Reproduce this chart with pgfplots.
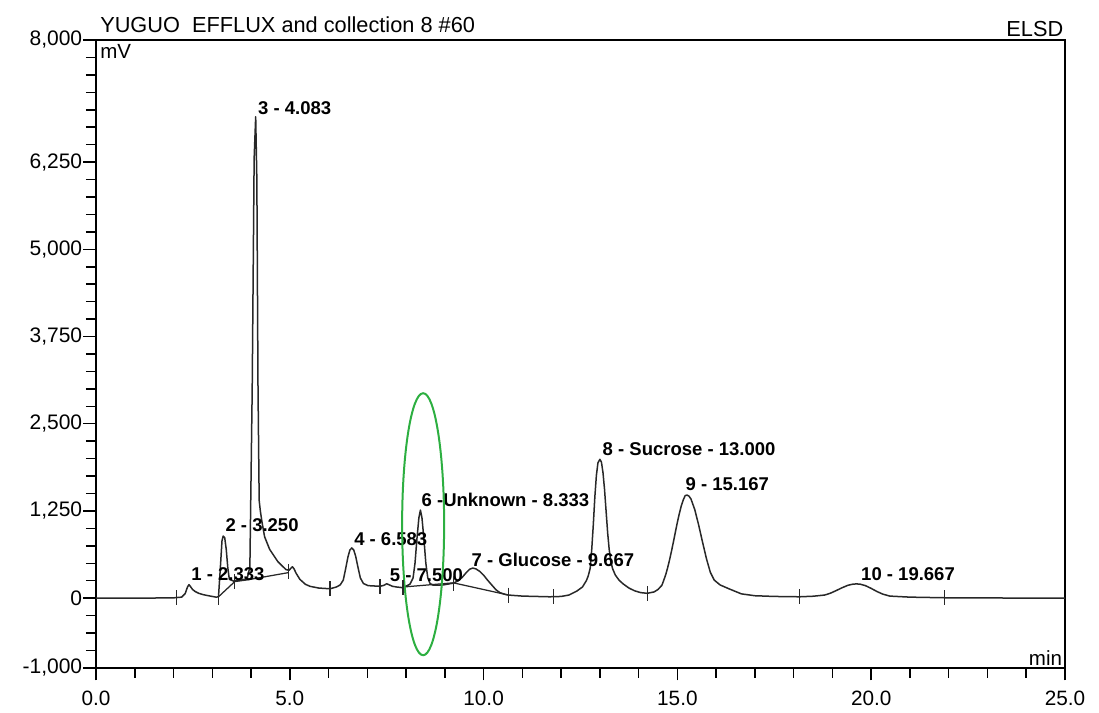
\documentclass[border=0pt]{standalone}
\usepackage{fontspec}
\setmainfont{Liberation Sans}
\usepackage{pgfplots}
\pgfplotsset{compat=1.18}
\definecolor{ell}{RGB}{45,175,65}
\definecolor{sig}{RGB}{40,40,40}
\begin{document}
\begin{tikzpicture}
\begin{axis}[
  scale only axis, width=387.6pt, height=251.2pt,
  xmin=0, xmax=25, ymin=-1000, ymax=8000,
  axis line style={line width=0.7pt},
  tick pos=left, tick align=outside,
  xtick={0,5,...,25}, minor xtick={0,1,...,25},
  ytick={-1000,0,1250,2500,3750,5000,6250,8000},
  minor ytick={-1000,-750,...,8000},
  major tick length=5pt, minor tick length=4pt,
  every tick/.style={line width=0.6pt, black},
  /pgf/number format/assume math mode=true,
  x tick label style={/pgf/number format/.cd, fixed, fixed zerofill, precision=1, /tikz/.cd, font=\fontsize{8.3}{9}\selectfont, yshift=-0.5pt},
  y tick label style={/pgf/number format/.cd, fixed, 1000 sep={,}, /tikz/.cd, font=\fontsize{8.4}{9}\selectfont, xshift=3pt},
  scaled ticks=false,
  clip=false,
]
% chromatogram signal
\addplot[sig, line width=0.6pt, line join=round] coordinates {
(0,0) (1.0,0) (2.0,5) (2.21,15) (2.30,65) (2.36,160) (2.40,194) (2.44,165) (2.49,125) (2.56,95) (2.65,70) (2.77,50) (2.95,30) (3.10,15)
(3.16,20) (3.21,450) (3.25,820) (3.28,890) (3.32,870) (3.36,700) (3.40,440) (3.44,270) (3.55,245) (3.75,260) (3.90,280)
(3.97,450) (4.03,3000) (4.08,6300) (4.12,6900) (4.15,6000) (4.18,3000) (4.21,1400) (4.24,1250) (4.28,1100) (4.35,880)
(4.48,700) (4.69,525) (4.90,410) (4.98,400) (5.03,430) (5.07,450) (5.11,420) (5.16,360) (5.26,270) (5.40,200) (5.52,170) (5.75,145) (6.04,135)
(6.20,160) (6.30,190) (6.38,260) (6.44,420) (6.50,590) (6.55,690) (6.60,720) (6.65,690) (6.70,600) (6.76,440) (6.82,290) (6.90,210) (7.02,180)
(7.33,170) (7.43,185) (7.50,207) (7.57,190) (7.65,170) (7.76,160) (7.92,150)
(8.10,200) (8.18,290) (8.23,500) (8.28,850) (8.33,1150) (8.37,1263) (8.41,1150) (8.46,850) (8.51,500) (8.56,290) (8.62,210) (8.70,186)
(8.96,190) (9.22,216) (9.35,250) (9.45,300) (9.55,365) (9.64,415) (9.72,432) (9.80,420) (9.90,385) (10.0,330) (10.1,260) (10.21,190)
(10.32,120) (10.42,80) (10.55,55) (10.64,45) (11.0,30) (11.71,20)
(12.0,25) (12.2,45) (12.40,100) (12.55,160) (12.65,250) (12.70,320) (12.75,430) (12.79,700) (12.83,1050) (12.87,1450) (12.91,1760)
(12.95,1940) (13.00,1990) (13.04,1950) (13.08,1800) (13.12,1560) (13.16,1250) (13.20,940) (13.24,700) (13.28,530) (13.33,420)
(13.40,330) (13.50,255) (13.60,205) (13.75,145) (13.90,105) (14.05,80) (14.22,70)
(14.40,90) (14.50,125) (14.60,185) (14.65,260) (14.70,340) (14.75,440) (14.80,555) (14.85,680) (14.90,815) (14.95,954) (15.00,1089)
(15.05,1213) (15.10,1322) (15.15,1407) (15.20,1470) (15.25,1478) (15.30,1462) (15.35,1422) (15.45,1266) (15.55,1045) (15.65,800)
(15.75,565) (15.85,370) (15.95,260) (16.10,190) (16.35,130) (16.65,62) (17.0,35) (17.5,25)
(18.15,20) (18.50,28) (18.80,45) (18.95,72) (19.10,110) (19.25,150) (19.40,185) (19.52,200) (19.62,205) (19.72,200) (19.85,180)
(20.0,140) (20.15,95) (20.30,58) (20.48,30) (21.0,15) (22.0,5) (25.0,0)
};
% integration baselines
\addplot[sig, line width=0.5pt] coordinates {(3.16,20) (3.58,238) (3.90,262) (4.96,366)};
\addplot[sig, line width=0.5pt] coordinates {(7.92,160) (9.22,220) (10.64,45)};
% peak delimiter ticks
\addplot[sig, only marks, mark=|, mark size=3pt, mark options={line width=0.5pt}] coordinates {
(2.07,5) (3.16,10) (3.58,238) (4.96,380) (6.04,135) (7.33,170) (7.92,155) (9.22,216) (10.64,45)
(11.8,20) (14.22,65) (18.15,20) (21.9,5)
};
% peak labels
\begin{scope}[every node/.style={anchor=west, inner sep=0pt, font=\fontsize{7.4}{8}\selectfont\bfseries}]
\node at (axis cs:2.45,340) {1 - 2.333};
\node at (axis cs:3.33,1040) {2 - 3.250};
\node at (axis cs:4.17,7020) {3 - 4.083};
\node at (axis cs:6.65,850) {4 - 6.583};
\node at (axis cs:7.57,336) {5 - 7.500};
\node at (axis cs:8.39,1408) {6 -Unknown - 8.333};
\node at (axis cs:9.68,547) {7 - Glucose - 9.667};
\node at (axis cs:13.06,2134) {8 - Sucrose - 13.000};
\node at (axis cs:15.20,1630) {9 - 15.167};
\node at (axis cs:19.73,345) {10 - 19.667};
\end{scope}
% highlight ellipse
\draw[ell, line width=0.8pt] (axis cs:8.44,1060) ellipse [x radius=8.4pt, y radius=52.4pt];
% header and unit texts
\node[anchor=base west, inner sep=0pt, font=\fontsize{8.7}{10}\selectfont] at ([xshift=1.5pt,yshift=3.0pt]rel axis cs:0,1) {YUGUO\ \ EFFLUX and collection 8 \#60};
\node[anchor=base east, inner sep=0pt, font=\fontsize{8.7}{10}\selectfont] at ([xshift=-0.5pt,yshift=1.5pt]rel axis cs:1,1) {ELSD};
\node[anchor=north west, inner sep=0pt, font=\fontsize{8.2}{9}\selectfont] at ([xshift=1.5pt,yshift=-1.5pt]rel axis cs:0,1) {mV};
\node[anchor=base east, inner sep=0pt, font=\fontsize{8.2}{9}\selectfont] at ([xshift=-1pt,yshift=1pt]rel axis cs:1,0) {min};
\end{axis}
\pgfresetboundingbox
\path[use as bounding box] ([xshift=-38.4pt,yshift=-18pt]current axis.south west) rectangle ([xshift=13.6pt,yshift=16pt]current axis.north east);
\end{tikzpicture}
\end{document}
